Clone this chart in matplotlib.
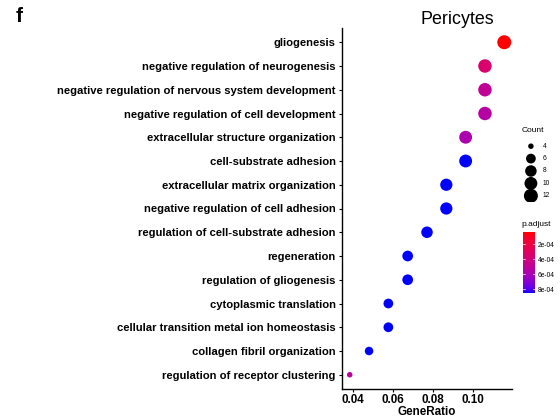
import numpy as np
import matplotlib
matplotlib.use("Agg")
import matplotlib.pyplot as plt
from matplotlib.colors import ListedColormap, Normalize

plt.rcParams['font.family'] = ['Liberation Sans', 'DejaVu Sans']

terms = [
    "gliogenesis",
    "negative regulation of neurogenesis",
    "negative regulation of nervous system development",
    "negative regulation of cell development",
    "extracellular structure organization",
    "cell-substrate adhesion",
    "extracellular matrix organization",
    "negative regulation of cell adhesion",
    "regulation of cell-substrate adhesion",
    "regeneration",
    "regulation of gliogenesis",
    "cytoplasmic translation",
    "cellular transition metal ion homeostasis",
    "collagen fibril organization",
    "regulation of receptor clustering",
]
counts = [12, 11, 11, 11, 10, 10, 9, 9, 8, 7, 7, 6, 6, 5, 4]
gene_ratio = [c / 104 for c in counts]
p_adjust = [3.8e-5, 3.5e-4, 4.9e-4, 5.4e-4, 5.8e-4, 8.5e-4, 8.5e-4, 8.5e-4,
            8.5e-4, 8.5e-4, 8.5e-4, 8.5e-4, 8.5e-4, 8.5e-4, 5.2e-4]
size_breaks = [4, 6, 8, 10, 12]
p_breaks = [2e-4, 4e-4, 6e-4, 8e-4]
p_labels = ["2e-04", "4e-04", "6e-04", "8e-04"]


# red -> blue gradient interpolated in CIE Lab space
def srgb_to_lab(rgb):
    rgb = np.asarray(rgb, float)
    lin = np.where(rgb <= 0.04045, rgb / 12.92, ((rgb + 0.055) / 1.055) ** 2.4)
    M = np.array([[0.4124, 0.3576, 0.1805],
                  [0.2126, 0.7152, 0.0722],
                  [0.0193, 0.1192, 0.9505]])
    xyz = lin @ M.T / np.array([0.95047, 1.0, 1.08883])
    f = np.where(xyz > 0.008856, np.cbrt(xyz), 7.787 * xyz + 16 / 116)
    return np.stack([116 * f[..., 1] - 16,
                     500 * (f[..., 0] - f[..., 1]),
                     200 * (f[..., 1] - f[..., 2])], -1)


def lab_to_srgb(lab):
    L, a, b = lab[..., 0], lab[..., 1], lab[..., 2]
    fy = (L + 16) / 116
    fx = fy + a / 500
    fz = fy - b / 200
    f = np.stack([fx, fy, fz], -1)
    xyz = np.where(f ** 3 > 0.008856, f ** 3, (f - 16 / 116) / 7.787)
    xyz = xyz * np.array([0.95047, 1.0, 1.08883])
    Minv = np.array([[3.2406, -1.5372, -0.4986],
                     [-0.9689, 1.8758, 0.0415],
                     [0.0557, -0.2040, 1.0570]])
    lin = xyz @ Minv.T
    lin = np.clip(lin, 0, 1)
    rgb = np.where(lin <= 0.0031308, 12.92 * lin, 1.055 * lin ** (1 / 2.4) - 0.055)
    return np.clip(rgb, 0, 1)


t = np.linspace(0, 1, 256)[:, None]
lab_red = srgb_to_lab([1, 0, 0])
lab_blue = srgb_to_lab([0, 0, 1])
cmap = ListedColormap(lab_to_srgb(lab_red * (1 - t) + lab_blue * t))
norm = Normalize(vmin=min(p_adjust), vmax=max(p_adjust))


def area(c):
    # diameter grows with sqrt of the rescaled count, returned as marker area (pt^2)
    c = np.asarray(c, float)
    frac = (c - min(size_breaks)) / (max(size_breaks) - min(size_breaks))
    d_px = 5.5 + (14.0 - 5.5) * np.sqrt(np.clip(frac, 0, 1))
    return (d_px * 72 / 100) ** 2


fig = plt.figure(figsize=(5.6, 4.2), dpi=100)
ax = fig.add_axes([342 / 560, 1 - 389 / 420, (512 - 342) / 560, (389 - 28) / 420])

y = np.arange(len(terms))[::-1]
ax.scatter(gene_ratio, y, s=area(counts), c=p_adjust, cmap=cmap, norm=norm,
           linewidths=0, zorder=3)
ax.set_yticks(y)
ax.set_yticklabels(terms, fontsize=8.1, fontweight='bold')
ax.set_ylim(-0.6, len(terms) - 0.4)
lo, hi = min(gene_ratio), max(gene_ratio)
pad = (hi - lo) * 0.05
ax.set_xlim(lo - pad, hi + pad)
ax.set_xticks([0.04, 0.06, 0.08, 0.10])
ax.set_xticklabels(["0.04", "0.06", "0.08", "0.10"], fontsize=8.4, fontweight='bold')
ax.set_xlabel("GeneRatio", fontsize=8.4, fontweight='bold', labelpad=0)
for s in ("top", "right"):
    ax.spines[s].set_visible(False)
for s in ("left", "bottom"):
    ax.spines[s].set_linewidth(1.0)
ax.tick_params(length=2.5, width=0.8, pad=2)
ax.tick_params(axis='x', pad=1)

fig.text(457 / 560, 1 - 20 / 420, "Pericytes", fontsize=12.9, ha='center', va='center')
fig.text(19 / 560, 1 - 17 / 420, "f", fontsize=15, fontweight='bold', ha='center', va='center')

# size legend
lax = fig.add_axes([521 / 560, 1 - 202 / 420, 30 / 560, 62 / 420])
lax.set_xlim(0, 1)
lax.set_ylim(len(size_breaks) - 0.5, -0.5)
lax.axis('off')
ly = np.arange(len(size_breaks))
lax.scatter([0.33] * len(size_breaks), ly, s=area(size_breaks), c='black', linewidths=0)
for yy, b in zip(ly, size_breaks):
    lax.text(0.72, yy, str(b), fontsize=4.8, va='center', ha='left')
fig.text(522 / 560, 1 - 130 / 420, "Count", fontsize=6, va='center', ha='left')

# colour bar
cax = fig.add_axes([523 / 560, 1 - 293 / 420, 12 / 560, 61 / 420])
grad = np.linspace(norm.vmin, norm.vmax, 200)[:, None]
cax.imshow(grad, aspect='auto', cmap=cmap, norm=norm,
           extent=[0, 1, norm.vmax, norm.vmin])
cax.set_ylim(norm.vmax, norm.vmin)
cax.set_xlim(0, 1)
cax.set_xticks([])
cax.yaxis.tick_right()
cax.set_yticks(p_breaks)
cax.set_yticklabels(p_labels, fontsize=4.8)
cax.tick_params(axis='y', length=0, pad=2)
for yv in p_breaks:
    cax.plot([0, 0.2], [yv, yv], color='white', lw=0.5)
    cax.plot([0.8, 1], [yv, yv], color='white', lw=0.5)
for s in cax.spines.values():
    s.set_visible(False)
fig.text(521 / 560, 1 - 225 / 420, "p.adjust", fontsize=6, va='center', ha='left')

fig.savefig("out.png", dpi=100)
